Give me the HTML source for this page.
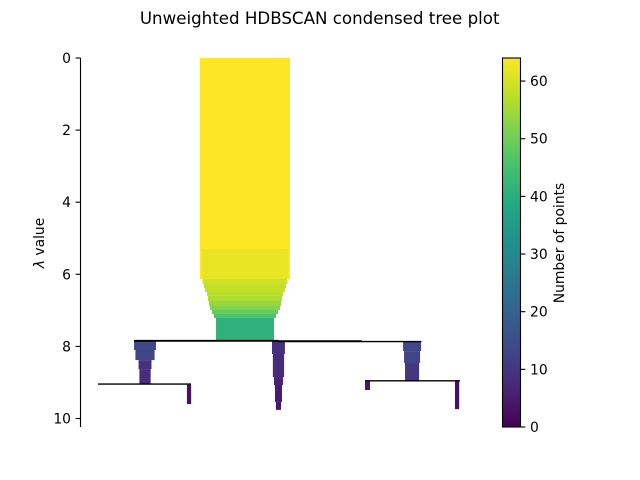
<!DOCTYPE html>
<html lang="en">
<head>
<meta charset="utf-8">
<title>Unweighted HDBSCAN condensed tree plot</title>
<style>
html,body{margin:0;padding:0;background:#fff;width:640px;height:480px;overflow:hidden}
svg{display:block}
text{font-family:"DejaVu Sans",sans-serif;font-size:13.89px;fill:#000}
</style>
</head>
<body>
<svg id="chart" width="640" height="480" viewBox="0 0 640 480" xmlns="http://www.w3.org/2000/svg">
<rect width="640" height="480" fill="#fff"/>
<text x="319.7" y="24" text-anchor="middle" style="font-size:16.67px">Unweighted HDBSCAN condensed tree plot</text>
<g id="bars"></g>
<g id="lines"></g>
<g id="yaxis"></g>
<text transform="translate(44,243) rotate(-90)" text-anchor="middle"><tspan font-style="italic">λ</tspan> value</text>
<g id="colorbar"></g>
<text transform="translate(564,243) rotate(-90)" text-anchor="middle">Number of points</text>
</svg>
<script>
// Bars of the condensed tree, in data units
const barCenters = [0,0,0,0,0,0,0,0,0,0,0,0,0,
  -71.1,-71.1,-71.1,-71.1,-39.8,
  23.8,23.8,23.8,23.8,23.8,
  118.8,118.8,118.8,87.1,150.8];
const barLambdaStart = [0,0,5.30,6.13,6.27,6.38,6.49,6.60,6.74,6.88,6.99,7.10,7.21,
  7.85,8.10,8.38,8.63,9.06,
  7.86,8.21,8.85,9.07,9.54,
  7.86,8.13,8.46,8.97,8.97];
const barLambdaEnd = [6.13,5.30,6.13,6.27,6.38,6.49,6.60,6.74,6.88,6.99,7.10,7.21,7.84,
  8.10,8.38,8.63,9.04,9.60,
  8.21,8.85,9.07,9.54,9.76,
  8.13,8.46,8.95,9.21,9.74];
const barSizes = [64,64,61,60.4,58.3,56.9,54,52.6,51.2,49.8,46.9,44.1,41.2,
  15.6,13.6,9.2,8,3,
  9.2,8,6.4,5,3.6,
  12.8,11.4,10,3.6,3];
const barCounts = [64,64,62,59.5,58,58,57,56,54,52,49,46,41,
  14,13,9,8,3,
  9,8,6,5,4,
  14,13,10,4,3];

// Horizontal split lines
const lineStart = [-78.9,-78.9,23.8,-104.5,85.3];
const lineEnd = [23.8,83.2,125.5,-38.4,152.9];
const lineLambda = [7.84,7.85,7.865,9.045,8.955];

// Tick labels
const yTicks = [0,2,4,6,8,10];
const colorTicks = [0,10,20,30,40,50,60];

const viridisStops = ['#440154','#482475','#414487','#355f8d','#2a788e','#21918c','#22a884','#44bf70','#7ad151','#bddf26','#fde725'];
const countMax = 64;
const NS = 'http://www.w3.org/2000/svg';

function xScale(x){ return 245 + x * 1.40625; }
function yScale(l){ return 58 + l * 36.05; }
function cScale(c){ return 427 - c / countMax * 369; }

function hex(h){ return [1,3,5].map(function(i){ return parseInt(h.substr(i,2),16); }); }
function viridis(t){
  t = Math.max(0, Math.min(1, t));
  const p = t * (viridisStops.length - 1);
  const i = Math.min(Math.floor(p), viridisStops.length - 2);
  const a = hex(viridisStops[i]), b = hex(viridisStops[i + 1]), f = p - i;
  return 'rgb(' + a.map(function(v, k){ return Math.round(v + (b[k] - v) * f); }).join(',') + ')';
}
function make(tag, attrs, parent){
  const el = document.createElementNS(NS, tag);
  Object.keys(attrs).forEach(function(k){ el.setAttribute(k, attrs[k]); });
  parent.appendChild(el);
  return el;
}

const barsG = document.getElementById('bars');
barCenters.forEach(function(c, i){
  const w = barSizes[i] * 1.40625;
  const y0 = yScale(barLambdaStart[i]), y1 = yScale(barLambdaEnd[i]);
  const el = make('rect', {x: xScale(c) - w / 2, y: y0, width: w, height: y1 - y0, fill: viridis(barCounts[i] / countMax)}, barsG);
  
  
});

const linesG = document.getElementById('lines');
lineStart.forEach(function(s, i){
  const y = yScale(lineLambda[i]);
  const el = make('line', {x1: xScale(s), x2: xScale(lineEnd[i]), y1: y, y2: y, stroke: '#000', 'stroke-width': 1.4}, linesG);
  
  
});

const yG = document.getElementById('yaxis');
const ySpine = make('line', {x1: 80.5, x2: 80.5, y1: 58, y2: 427, stroke: '#000', 'stroke-width': 1.1}, yG);


yTicks.forEach(function(v){
  const y = yScale(v);
  const t = make('line', {x1: 75.6, x2: 80.5, y1: y, y2: y, stroke: '#000', 'stroke-width': 1.1}, yG);
  
  
  const l = make('text', {x: 71, y: y + 5, 'text-anchor': 'end'}, yG);
  
  
  l.textContent = v;
});

const cbG = document.getElementById('colorbar');
const defs = make('defs', {}, cbG);
const grad = make('linearGradient', {id: 'viridis-gradient', x1: 0, y1: 1, x2: 0, y2: 0}, defs);
viridisStops.forEach(function(col, i){
  make('stop', {offset: i / (viridisStops.length - 1), 'stop-color': col}, grad);
});
const cbRect = make('rect', {x: 502.5, y: 58, width: 18, height: 369, fill: 'url(#viridis-gradient)', stroke: '#000', 'stroke-width': 1.1}, cbG);


colorTicks.forEach(function(v){
  const y = cScale(v);
  const t = make('line', {x1: 520.5, x2: 525.4, y1: y, y2: y, stroke: '#000', 'stroke-width': 1.1}, cbG);
  
  
  const l = make('text', {x: 530, y: y + 5}, cbG);
  
  
  l.textContent = v;
});
</script>
</body>
</html>
